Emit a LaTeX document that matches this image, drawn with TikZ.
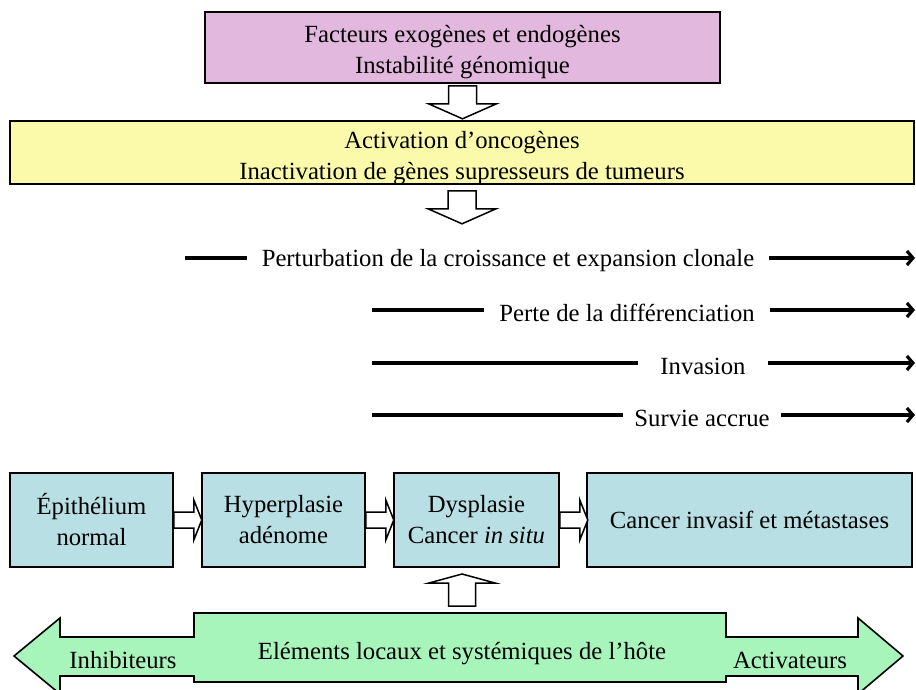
\documentclass[tikz,border=0pt]{standalone}
\usepackage{fontspec}
\setmainfont{Liberation Serif}
\usetikzlibrary{arrows.meta, positioning, calc}
\definecolor{factpink}{RGB}{226, 184, 222}
\definecolor{oncoyellow}{RGB}{250, 250, 170}
\definecolor{stageblue}{RGB}{184, 223, 228}
\definecolor{hostgreen}{RGB}{168, 245, 188}
\tikzset{
  box/.style={draw=black, line width=1.6pt, align=center, inner sep=0pt},
  stage/.style={box, fill=stageblue, minimum height=94pt},
  hollow/.style={draw=black, fill=white, line width=1.5pt, line join=miter},
  flow/.style={line width=3.2pt},
  label/.style={inner xsep=15pt, inner ysep=0pt}
}

\begin{document}
\begin{tikzpicture}[x=1pt, y=-1pt, font=\fontsize{24.7}{31}\selectfont]
        \useasboundingbox (0,0) rectangle (916,690);

        % Causes and genetic events
        \node[box, fill=factpink, minimum width=515pt, minimum height=71pt] (fact) at (462.5,47.5) {};
        \node[align=center] (factT) at (462.5,52) {Facteurs exogènes et endogènes\\Instabilité génomique};
        \node[box, fill=oncoyellow, minimum width=904pt, minimum height=63pt] (onco) at (462,152.5) {};
        \node[align=center] (oncoT) at (462,158) {Activation d’oncogènes\\Inactivation de gènes supresseurs de tumeurs};

        \begin{scope}[shift={(fact.south)}]
          \draw[hollow] (-14,2) -- (-14,20) -- (-34,20) -- (0,35) -- (34,20) -- (14,20) -- (14,2) -- cycle;
        \end{scope}
        \begin{scope}[shift={(onco.south)}]
          \draw[hollow] (-14,6) -- (-14,24) -- (-34,24) -- (0,39) -- (34,24) -- (14,24) -- (14,6) -- cycle;
        \end{scope}

        % Acquired properties
        \node[label] (croiss) at (508,261) {Perturbation de la croissance et expansion clonale};
        \node[label] (diff) at (627,313) {Perte de la différenciation};
        \node[label, inner xsep=22pt] (inva) at (703,366) {Invasion};
        \node[label, inner xsep=11pt] (surv) at (702,418) {Survie accrue};

        \coordinate (croissL) at (185,258);
        \coordinate (diffL) at (372,310);
        \coordinate (invaL) at (372,363);
        \coordinate (survL) at (372,415);
        \foreach \n in {croiss, diff, inva, surv}{
          \coordinate (\n R) at (915,0 |- \n L);
          \draw[flow] (\n L) -- (\n L -| \n.west);
          \draw[flow, -{Straight Barb[length=6pt, width=14pt]}] (\n L -| \n.east) -- (\n R);
        }

        % Stages
        \node[stage, minimum width=163pt] (epi) at (91.5,520) {Épithélium\\normal};
        \node[stage, minimum width=163pt] (hyp) at (283.5,520) {Hyperplasie\\adénome};
        \node[stage, minimum width=165pt] (dys) at (476.5,520) {Dysplasie\\Cancer \textit{in situ}};
        \node[stage, minimum width=325pt] (inv) at (749.5,520) {Cancer invasif et métastases};

        \foreach \a in {epi, hyp, dys}{
          \begin{scope}[shift={(\a.east)}]
            \draw[hollow] (0,-8) -- (20,-8) -- (20,-20) -- (28,0) -- (20,20) -- (20,8) -- (0,8) -- cycle;
          \end{scope}
        }

        % Host elements
        \fill[hostgreen, draw=black, line width=1.6pt]
          (14,656) -- (60,618) -- (60,637) -- (194,637) -- (194,613) -- (726,613) -- (726,637)
          -- (858,637) -- (858,618) -- (903,656) -- (858,694) -- (858,676) -- (726,676)
          -- (726,682) -- (194,682) -- (194,676) -- (60,676) -- (60,694) -- cycle;
        \node (host) at (462,654) {Eléments locaux et systémiques de l’hôte};
        \node (inhib) at (123,660) {Inhibiteurs};
        \node (activ) at (790,660) {Activateurs};

        \coordinate (hosttop) at (462,613);
        \begin{scope}[shift={(hosttop)}]
          \draw[hollow] (-13.5,-7) -- (-13.5,-30) -- (-33,-30) -- (0,-39) -- (33,-30) -- (13.5,-30) -- (13.5,-7) -- cycle;
        \end{scope}
      \end{tikzpicture}
\end{document}
